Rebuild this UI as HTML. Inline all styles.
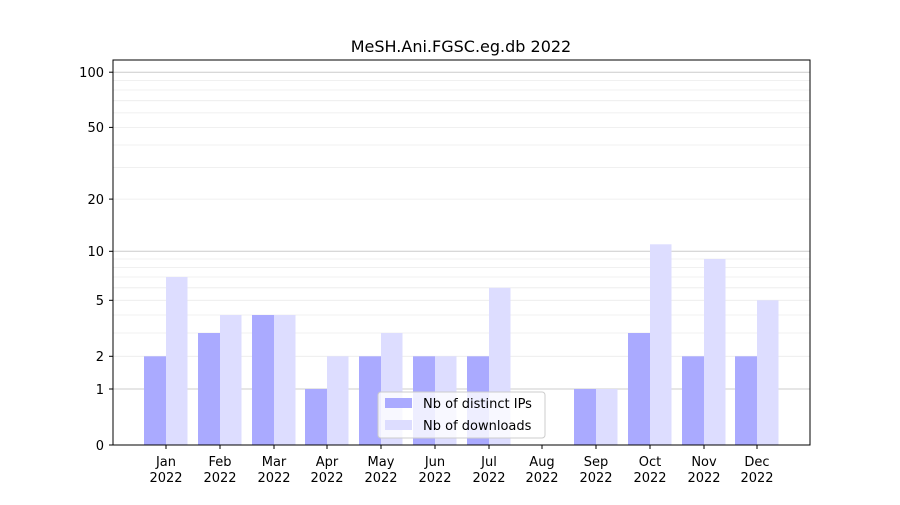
<!DOCTYPE html>
<html><head><meta charset="utf-8"><style>
html,body{margin:0;padding:0;background:#fff;}
text{font-family:"DejaVu Sans","Liberation Sans",sans-serif;}
</style></head><body>
<svg width="900" height="500" viewBox="0 0 900 500" xmlns="http://www.w3.org/2000/svg">
<rect width="900" height="500" fill="#fff"/>
<g stroke="#ebebeb" stroke-width="0.8">
<line x1="113" x2="810" y1="356.3" y2="356.3"/><line x1="113" x2="810" y1="333" y2="333"/>
<line x1="113" x2="810" y1="315" y2="315"/><line x1="113" x2="810" y1="300.3" y2="300.3"/>
<line x1="113" x2="810" y1="287.8" y2="287.8"/><line x1="113" x2="810" y1="277" y2="277"/>
<line x1="113" x2="810" y1="267.5" y2="267.5"/><line x1="113" x2="810" y1="259" y2="259"/>
<line x1="113" x2="810" y1="199.1" y2="199.1"/><line x1="113" x2="810" y1="167.6" y2="167.6"/>
<line x1="113" x2="810" y1="145" y2="145"/><line x1="113" x2="810" y1="127.4" y2="127.4"/>
<line x1="113" x2="810" y1="112.9" y2="112.9"/><line x1="113" x2="810" y1="100.7" y2="100.7"/>
<line x1="113" x2="810" y1="90" y2="90"/><line x1="113" x2="810" y1="80.6" y2="80.6"/>
</g>
<g stroke="#cccccc" stroke-width="1">
<line x1="113" x2="810" y1="389" y2="389"/><line x1="113" x2="810" y1="251.3" y2="251.3"/><line x1="113" x2="810" y1="72.2" y2="72.2"/>
</g>
<g fill="#aaaaff">
<rect x="144" y="356.3" width="22" height="88.7"/>
<rect x="198" y="333" width="22" height="112"/>
<rect x="252" y="315" width="22" height="130"/>
<rect x="305" y="389" width="22" height="56"/>
<rect x="359" y="356.3" width="22" height="88.7"/>
<rect x="413" y="356.3" width="22" height="88.7"/>
<rect x="467" y="356.3" width="22" height="88.7"/>
<rect x="574" y="389" width="22" height="56"/>
<rect x="628" y="333" width="22" height="112"/>
<rect x="682" y="356.3" width="22" height="88.7"/>
<rect x="735" y="356.3" width="22" height="88.7"/>
</g>
<g fill="#ddddff">
<rect x="166" y="277" width="21.5" height="168"/>
<rect x="220" y="315" width="21.5" height="130"/>
<rect x="274" y="315" width="21.5" height="130"/>
<rect x="327" y="356.3" width="21.5" height="88.7"/>
<rect x="381" y="333" width="21.5" height="112"/>
<rect x="435" y="356.3" width="21.5" height="88.7"/>
<rect x="489" y="287.8" width="21.5" height="157.2"/>
<rect x="596" y="389" width="21.5" height="56"/>
<rect x="650" y="244.3" width="21.5" height="200.7"/>
<rect x="704" y="259" width="21.5" height="186"/>
<rect x="757" y="300.3" width="21.5" height="144.7"/>
</g>
<rect x="113" y="60" width="697" height="385" fill="none" stroke="#000" stroke-width="1"/>
<g stroke="#000">
<line x1="109" x2="113" y1="445" y2="445"/><line x1="109" x2="113" y1="389" y2="389"/>
<line x1="109" x2="113" y1="356.3" y2="356.3"/><line x1="109" x2="113" y1="300.3" y2="300.3"/>
<line x1="109" x2="113" y1="251.3" y2="251.3"/><line x1="109" x2="113" y1="199.1" y2="199.1"/>
<line x1="109" x2="113" y1="127.4" y2="127.4"/><line x1="109" x2="113" y1="72.2" y2="72.2"/>
</g>
<g font-size="13" text-anchor="end" fill="#000">
<text x="104" y="450">0</text><text x="104" y="394">1</text><text x="104" y="361">2</text>
<text x="104" y="305">5</text><text x="104" y="256">10</text><text x="104" y="204">20</text>
<text x="104" y="132">50</text><text x="104" y="77">100</text>
</g>
<g stroke="#000">
<line x1="166" x2="166" y1="445" y2="449"/><line x1="220" x2="220" y1="445" y2="449"/>
<line x1="274" x2="274" y1="445" y2="449"/><line x1="327" x2="327" y1="445" y2="449"/>
<line x1="381" x2="381" y1="445" y2="449"/><line x1="435" x2="435" y1="445" y2="449"/>
<line x1="489" x2="489" y1="445" y2="449"/><line x1="542" x2="542" y1="445" y2="449"/>
<line x1="596" x2="596" y1="445" y2="449"/><line x1="650" x2="650" y1="445" y2="449"/>
<line x1="704" x2="704" y1="445" y2="449"/><line x1="757" x2="757" y1="445" y2="449"/>
</g>
<g font-size="13" text-anchor="middle" fill="#000">
<text x="166" y="466">Jan</text><text x="166" y="482">2022</text>
<text x="220" y="466">Feb</text><text x="220" y="482">2022</text>
<text x="274" y="466">Mar</text><text x="274" y="482">2022</text>
<text x="327" y="466">Apr</text><text x="327" y="482">2022</text>
<text x="381" y="466">May</text><text x="381" y="482">2022</text>
<text x="435" y="466">Jun</text><text x="435" y="482">2022</text>
<text x="489" y="466">Jul</text><text x="489" y="482">2022</text>
<text x="542" y="466">Aug</text><text x="542" y="482">2022</text>
<text x="596" y="466">Sep</text><text x="596" y="482">2022</text>
<text x="650" y="466">Oct</text><text x="650" y="482">2022</text>
<text x="704" y="466">Nov</text><text x="704" y="482">2022</text>
<text x="757" y="466">Dec</text><text x="757" y="482">2022</text>
</g>
<text x="461" y="52" font-size="16" text-anchor="middle">MeSH.Ani.FGSC.eg.db 2022</text>
<rect x="378" y="392" width="167" height="46" rx="3" fill="#fff" fill-opacity="0.8" stroke="#cccccc"/>
<rect x="385" y="398" width="27" height="10" fill="#aaaaff"/>
<rect x="385" y="420" width="27" height="10" fill="#ddddff"/>
<text x="423" y="408" font-size="13">Nb of distinct IPs</text>
<text x="423" y="430" font-size="13">Nb of downloads</text>
</svg>
</body></html>
